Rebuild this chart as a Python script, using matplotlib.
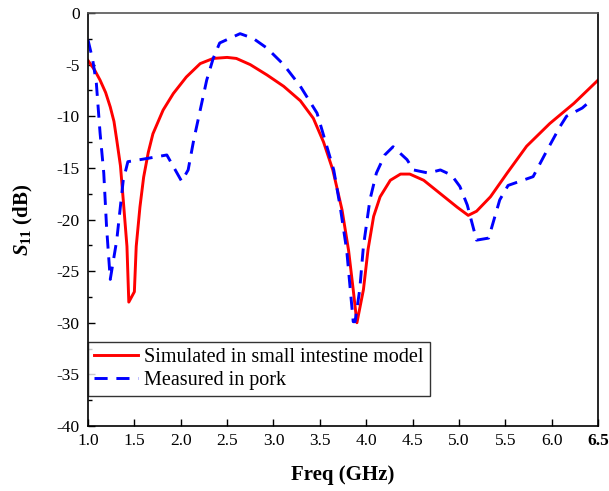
import matplotlib
matplotlib.use("Agg")
import matplotlib.pyplot as plt
from matplotlib.ticker import MultipleLocator

plt.rcParams['font.family'] = ['Liberation Serif', 'DejaVu Serif']
plt.rcParams['mathtext.fontset'] = 'custom'
plt.rcParams['mathtext.rm'] = 'Liberation Serif:bold'
plt.rcParams['mathtext.it'] = 'Liberation Serif:bold:italic'
plt.rcParams['mathtext.bf'] = 'Liberation Serif:bold'

# Simulated in small intestine model
sim_freq = [1.0, 1.07, 1.13, 1.19, 1.24, 1.28, 1.31, 1.35, 1.38, 1.42, 1.44, 1.5, 1.52,
            1.56, 1.60, 1.65, 1.70, 1.81, 1.92, 2.06, 2.21, 2.35, 2.50, 2.60, 2.75,
            2.93, 3.11, 3.29, 3.43, 3.54, 3.64, 3.74, 3.81, 3.86, 3.90, 3.97, 4.02,
            4.08, 4.15, 4.26, 4.37, 4.47, 4.62, 4.80, 4.98, 5.10, 5.19, 5.34, 5.52,
            5.73, 5.98, 6.24, 6.5]
sim_s11 = [-4.6, -5.5, -6.5, -7.7, -9.1, -10.5, -12.3, -14.8, -18.1, -22.6, -28.0, -27.0,
           -22.6, -18.8, -15.9, -13.5, -11.7, -9.4, -7.8, -6.2, -4.9, -4.4, -4.3, -4.4,
           -5.0, -6.0, -7.1, -8.5, -10.2, -12.5, -15.2, -19.1, -23.0, -26.8, -30.0,
           -26.8, -22.9, -19.7, -17.8, -16.2, -15.6, -15.6, -16.2, -17.5, -18.8, -19.6,
           -19.2, -17.8, -15.5, -12.9, -10.7, -8.75, -6.5]

# Measured in pork
mea_freq = [1.0, 1.05, 1.09, 1.13, 1.17, 1.20, 1.24, 1.31, 1.38, 1.43, 1.63, 1.85, 2.01,
            2.08, 2.14, 2.21, 2.28, 2.35, 2.42, 2.64, 2.78, 2.93, 3.11, 3.29, 3.47,
            3.65, 3.72, 3.79, 3.86, 3.88, 3.93, 3.97, 4.04, 4.11, 4.20, 4.29, 4.44,
            4.51, 4.67, 4.80, 4.92, 5.01, 5.09, 5.19, 5.32, 5.44, 5.53, 5.80, 5.95,
            6.09, 6.16, 6.33, 6.42]
mea_s11 = [-2.6, -4.5, -6.8, -11.6, -15.5, -20.7, -25.8, -22.0, -16.2, -14.4, -14.1, -13.75,
           -16.3, -15.2, -12.3, -9.4, -6.5, -4.4, -2.9, -2.0, -2.45, -3.4, -5.0, -7.1, -9.7,
           -15.2, -18.8, -23.0, -29.9, -29.9, -26.8, -22.6, -18.1, -15.5, -13.75, -12.95,
           -14.2, -15.2, -15.5, -15.2, -15.7, -16.8, -18.6, -22.0, -21.8, -18.1, -16.7,
           -15.85, -13.3, -11.0, -10.0, -9.2, -8.5]

xticks = [1.0, 1.5, 2.0, 2.5, 3.0, 3.5, 4.0, 4.5, 5.0, 5.5, 6.0, 6.5]
yticks = [0, -5, -10, -15, -20, -25, -30, -35, -40]

fig = plt.figure(figsize=(6.09, 4.91), dpi=100)
ax = fig.add_axes([0.1445, 0.1324, 0.8375, 0.8411])

ax.plot(sim_freq, sim_s11, color='#ff0000', lw=2.1, label='Simulated in small intestine model')
ax.plot(mea_freq, mea_s11, color='#0000ff', lw=2.1, dashes=(4.5, 3.0),
        label='Measured in pork')

ax.set_xlim(1.0, 6.5)
ax.set_ylim(-40, 0)
ax.set_xticks(xticks)
ax.set_xticklabels([f'{t:.1f}' for t in xticks])
ax.xaxis.get_ticklabels()[-1].set_fontweight('bold')
ax.set_yticks(yticks)
ax.set_yticklabels([f'{t:d}' for t in yticks])
ax.yaxis.set_minor_locator(MultipleLocator(2.5))
ax.tick_params(axis='both', which='both', direction='in', labelsize=12.5,
               top=False, right=False)
ax.tick_params(axis='x', which='major', length=5, width=1, pad=5)
ax.tick_params(axis='y', which='major', length=5, width=1, pad=6)
ax.tick_params(axis='y', which='minor', length=3, width=1)
for s in ax.spines.values():
    s.set_linewidth(1.2)
ax.spines['top'].set_color('#555555')

ax.set_xlabel('Freq (GHz)', fontsize=15, fontweight='bold')
ax.xaxis.set_label_coords(0.5, -0.094)
ax.set_ylabel(r'$S_{11}$ (dB)', fontsize=15, fontweight='bold')
ax.yaxis.set_label_coords(-0.103, 0.5)

leg = ax.legend(loc='lower left', bbox_to_anchor=(0.0, 0.072), borderaxespad=0,
                fontsize=14.5, frameon=True, fancybox=False, handlelength=2.2,
                borderpad=0.3, labelspacing=0.2, handletextpad=0.3)
leg.get_frame().set_edgecolor('black')
leg.get_frame().set_linewidth(1.0)

fig.savefig('out.png', dpi=100)
